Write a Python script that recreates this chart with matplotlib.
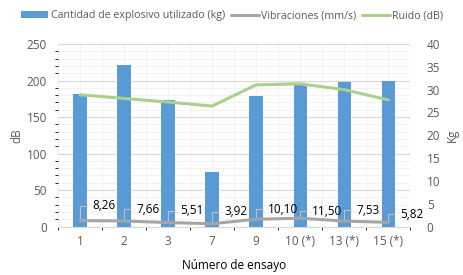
import numpy as np
import matplotlib
matplotlib.use("Agg")
import matplotlib.pyplot as plt
from matplotlib.ticker import MultipleLocator

ensayos = ["1", "2", "3", "7", "9", "10 (*)", "13 (*)", "15 (*)"]
explosivo_kg = [29.0, 35.5, 27.8, 12.0, 28.5, 31.0, 31.6, 32.0]
vibraciones = [8.26, 7.66, 5.51, 3.92, 10.10, 11.50, 7.53, 5.82]
ruido_db = [180.5, 175.5, 170.5, 165.0, 194.0, 195.5, 187.5, 173.5]
vib_labels = ["8,26", "7,66", "5,51", "3,92", "10,10", "11,50", "7,53", "5,82"]

# vertical offset (pixels) of each data label above its point
label_dy = [15, 12, 12, 12, 10, 7, 11, 8]

plt.rcParams['font.family'] = ['Open Sans', 'DejaVu Sans']
tick_color = '#595959'

fig = plt.figure(figsize=(4.64, 2.75), dpi=100)
ax = fig.add_axes([0.125, 0.176, 0.759, 0.664])
ax2 = ax.twinx()

x = np.arange(len(ensayos))

# left axis (dB)
ax.set_ylim(0, 250)
ax.set_xlim(-0.5, len(ensayos) - 0.5)
ax.yaxis.set_major_locator(MultipleLocator(50))
ax.yaxis.set_minor_locator(MultipleLocator(10))
ax.xaxis.set_minor_locator(MultipleLocator(0.5))
ax.grid(True, which='minor', color='#F2F2F2', lw=0.8)
ax.grid(True, which='major', axis='y', color='#D9D9D9', lw=0.8)
ax.grid(True, which='major', axis='x', color='#F2F2F2', lw=0.8)
ax.set_axisbelow(True)

# right axis (Kg) - bars
ax2.set_ylim(0, 40)
ax2.yaxis.set_major_locator(MultipleLocator(5))
bars = ax2.bar(x, explosivo_kg, width=0.3, color='#5B9BD5', zorder=2,
               label='Cantidad de explosivo utilizado (kg)')

# lines belong to the dB axis; drawn on ax2 (rescaled) so they sit above the bars
scale = 40 / 250
vib_line, = ax2.plot(x, np.array(vibraciones) * scale, color='#A5A5A5', lw=2.2,
                     solid_joinstyle='round', solid_capstyle='round', zorder=3,
                     label='Vibraciones (mm/s)')
ruido_line, = ax2.plot(x, np.array(ruido_db) * scale, color='#A9D18E', lw=2.2,
                       solid_joinstyle='round', solid_capstyle='round', zorder=3,
                       label='Ruido (dB)')

for xi, v, lab, dy in zip(x, vibraciones, vib_labels, label_dy):
    ax2.annotate(lab, xy=(xi, v * scale), xytext=(12, dy), textcoords='offset pixels',
                 ha='left', va='center', fontsize=8.5, color='#000000', zorder=4)
    ax2.annotate('', xy=(xi, v * scale), xytext=(7, dy), textcoords='offset pixels',
                 arrowprops=dict(arrowstyle='-', color='#BFBFBF', lw=0.8,
                                 connectionstyle='angle,angleA=0,angleB=90,rad=0',
                                 shrinkA=0, shrinkB=0), zorder=2.5)

for a in (ax, ax2):
    for s in a.spines.values():
        s.set_visible(False)
    a.tick_params(length=0, colors=tick_color, labelsize=8.5)
ax.spines['bottom'].set_visible(True)
ax.spines['bottom'].set_color('#D9D9D9')

ax.set_xticks(x)
ax.set_xticklabels(ensayos)
ax.tick_params(axis='x', pad=6)
ax.tick_params(axis='y', pad=8)
ax2.tick_params(axis='y', pad=12)

ax.set_ylabel('dB', fontsize=8.5, color=tick_color, labelpad=2)
ax2.set_ylabel('Kg', fontsize=8.5, color=tick_color, labelpad=4)
ax.set_xlabel('Número de ensayo', fontsize=8.5, color='#000000', labelpad=8)

fig.legend(handles=[bars, vib_line, ruido_line], loc='center', bbox_to_anchor=(0.5, 0.942),
           ncol=3, frameon=False, fontsize=7.7, handlelength=2.6, handletextpad=0.25,
           columnspacing=0.5, labelcolor=tick_color)

fig.savefig('out.png', dpi=100)
